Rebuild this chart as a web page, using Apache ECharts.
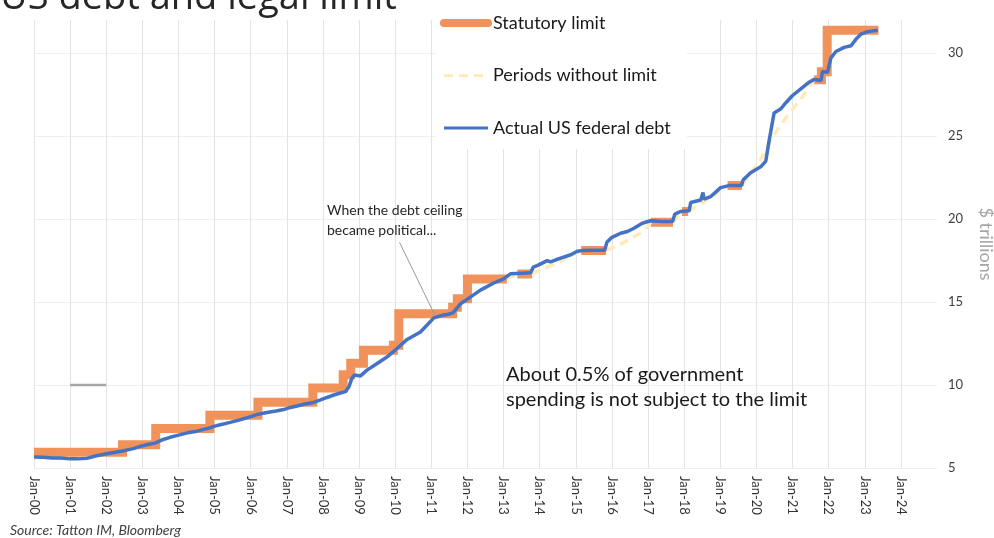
<!DOCTYPE html>
<html>
<head>
<meta charset="utf-8">
<script src="https://cdn.jsdelivr.net/npm/echarts@6/dist/echarts.min.js"></script>
<style>
html,body{margin:0;padding:0;background:#fff;}
#chart{width:994px;height:538px;}
</style>
</head>
<body>
<div id="chart"></div>
<script>
// ---------- DATA ----------
const yearLabels = ['00','01','02','03','04','05','06','07','08','09','10','11','12','13','14','15','16','17','18','19','20','21','22','23','24'];

// Statutory limit: start date (fractional year), end date, level ($ trillions)
const limitStart = [2000.0, 2002.45, 2003.37, 2004.87, 2006.2, 2007.72, 2008.56, 2008.77, 2009.12, 2009.95, 2010.1, 2011.59, 2011.72, 2012.0, 2013.38, 2015.15, 2017.08, 2017.94, 2019.2, 2021.6, 2021.8, 2021.96];
const limitEnd   = [2002.45, 2003.37, 2004.87, 2006.2, 2007.72, 2008.56, 2008.77, 2009.12, 2009.95, 2010.1, 2011.59, 2011.72, 2012.0, 2013.09, 2013.79, 2015.84, 2017.69, 2018.11, 2019.6, 2021.8, 2021.96, 2023.38];
const limitValue = [5.95, 6.4, 7.384, 8.184, 8.965, 9.815, 10.615, 11.315, 12.104, 12.394, 14.294, 14.694, 15.194, 16.394, 16.699, 18.113, 19.809, 20.456, 22.03, 28.401, 28.881, 31.381];

// Periods without limit (dashed), segments
const noLimitSegments = [
  [[2013.09, 16.394], [2013.38, 16.699]],
  [[2013.79, 16.699], [2014.3, 17.2], [2014.8, 17.7], [2015.15, 18.113]],
  [[2015.84, 18.113], [2016.43, 18.7], [2016.89, 19.3], [2017.08, 19.809]],
  [[2017.69, 19.809], [2017.94, 20.456]],
  [[2018.11, 20.456], [2018.6, 21.1], [2019.2, 22.03]],
  [[2019.6, 22.03], [2020.12, 23.6], [2020.4, 24.8], [2020.68, 25.7], [2020.95, 26.5], [2021.23, 27.2], [2021.46, 28.0], [2021.6, 28.401]]
];

// Actual US federal debt
const debtDates = [2000.0,2000.25,2000.5,2000.75,2001.0,2001.2,2001.46,2001.7,2002.01,2002.25,2002.48,2002.75,2002.94,2003.15,2003.35,2003.55,2003.77,2004.0,2004.25,2004.51,2004.7,2004.88,2005.1,2005.43,2005.7,2006.0,2006.17,2006.45,2006.7,2006.91,2007.1,2007.28,2007.5,2007.74,2007.93,2008.11,2008.3,2008.62,2008.72,2008.8,2008.87,2009.04,2009.22,2009.5,2009.78,2010.05,2010.33,2010.7,2011.07,2011.3,2011.44,2011.6,2011.65,2011.81,2012.08,2012.36,2012.73,2013.0,2013.19,2013.5,2013.75,2013.82,2013.93,2014.21,2014.3,2014.45,2014.58,2014.86,2015.04,2015.2,2015.5,2015.8,2015.86,2016.0,2016.24,2016.43,2016.61,2016.84,2017.07,2017.4,2017.68,2017.74,2017.91,2018.14,2018.18,2018.46,2018.52,2018.55,2018.73,2019.01,2019.24,2019.59,2019.63,2019.84,2020.12,2020.26,2020.35,2020.49,2020.68,2020.81,2021.0,2021.23,2021.46,2021.6,2021.79,2021.83,2021.97,2022.06,2022.2,2022.43,2022.62,2022.76,2022.9,2023.08,2023.36];
const debtValues = [5.66,5.65,5.6,5.6,5.55,5.55,5.58,5.72,5.86,5.95,6.04,6.17,6.3,6.42,6.5,6.7,6.85,6.98,7.12,7.22,7.33,7.43,7.58,7.75,7.9,8.1,8.22,8.35,8.44,8.52,8.65,8.74,8.86,8.95,9.1,9.25,9.4,9.6,9.9,10.4,10.6,10.55,10.9,11.3,11.7,12.2,12.75,13.2,14.05,14.2,14.25,14.35,14.45,14.9,15.3,15.72,16.15,16.4,16.7,16.74,16.77,17.1,17.2,17.5,17.42,17.55,17.65,17.85,18.06,18.11,18.12,18.12,18.6,18.9,19.15,19.25,19.45,19.75,19.9,19.86,19.86,20.3,20.46,20.5,21.0,21.15,21.6,21.2,21.35,21.9,22.02,22.02,22.35,22.8,23.15,23.5,24.7,26.4,26.65,27.0,27.45,27.85,28.25,28.42,28.35,28.9,28.85,29.7,30.1,30.35,30.45,30.85,31.15,31.3,31.38];

// Small grey marker line
const greyLine = [[2001, 10], [2002, 10]];

// ---------- BUILD ----------
const limitData = [];
for (let i = 0; i < limitStart.length; i++) {
  if (i > 0 && limitStart[i] === limitEnd[i - 1]) {
    limitData.push([limitStart[i], limitValue[i]]);
  } else {
    if (i > 0) limitData.push(null);
    limitData.push([limitStart[i], limitValue[i]]);
  }
  limitData.push([limitEnd[i], limitValue[i]]);
}
const noLimitData = [];
noLimitSegments.forEach((seg, i) => {
  if (i > 0) noLimitData.push(null);
  seg.forEach(p => noLimitData.push(p));
});
const debtData = debtDates.map((d, i) => [d, debtValues[i]]);

const ORANGE = '#F0925A';
const BLUE = '#4472C4';
const DASH = '#FFEBB8';
const FONT = 'Lato, "Open Sans", sans-serif';

const chart = echarts.init(document.getElementById('chart'), null, {renderer: 'canvas'});
chart.setOption({
  animation: false,
  backgroundColor: '#fff',
  grid: {left: 34, right: 57, top: 20, bottom: 70, containLabel: false, outerBoundsMode: 'none'},
  legend: {
    orient: 'vertical',
    left: 436, top: 8,
    padding: [6, 16, 12, 4],
    backgroundColor: '#fff',
    itemWidth: 44, itemHeight: 14, itemGap: 34.5,
    itemStyle: {opacity: 0},
    textStyle: {fontFamily: FONT, fontSize: 18, color: '#1a1a1a', lineHeight: 18},
    data: [
      {name: 'Statutory limit', lineStyle: {width: 8, cap: 'round'}, itemStyle: {opacity: 0}},
      {name: 'Periods without limit', lineStyle: {width: 3, type: [9, 6]}, itemStyle: {opacity: 0}},
      {name: 'Actual US federal debt', lineStyle: {width: 3}, itemStyle: {opacity: 0}}
    ],
    z: 10
  },
  xAxis: {
    type: 'value', min: 2000, max: 2025, interval: 1,
    axisLine: {show: false}, axisTick: {show: false},
    splitLine: {show: true, showMaxLine: false, lineStyle: {color: '#e4e4e4', width: 1}},
    axisLabel: {
      rotate: -90, margin: 8, fontFamily: FONT, fontSize: 13, color: '#333',
      showMaxLabel: false,
      formatter: v => { const i = Math.round(v - 2000); return i < yearLabels.length ? 'Jan-' + yearLabels[i] : ''; }
    }
  },
  yAxis: {
    type: 'value', position: 'right', min: 5, max: 32, interval: 5,
    axisLine: {show: false}, axisTick: {show: false},
    splitLine: {show: true, showMaxLine: false, lineStyle: {color: '#efefef', width: 1}},
    axisLabel: {margin: 11, fontFamily: FONT, fontSize: 13, color: '#404040', showMaxLabel: false},
    name: '$ trillions', nameLocation: 'middle', nameRotate: -90, nameGap: 40,
    nameTextStyle: {fontFamily: FONT, fontSize: 18, color: '#a6a6a6'}
  },
  series: [
    {
      name: 'Statutory limit', type: 'line', data: limitData, symbol: 'none', showSymbol: false,
      connectNulls: false, color: ORANGE,
      lineStyle: {color: ORANGE, width: 9, join: 'miter'}, z: 2
    },
    {
      name: 'Periods without limit', type: 'line', data: noLimitData, symbol: 'none', showSymbol: false,
      connectNulls: false, color: DASH,
      lineStyle: {color: DASH, width: 3.5, type: [9, 6]}, z: 3
    },
    {
      name: 'Actual US federal debt', type: 'line', data: debtData, symbol: 'none', showSymbol: false,
      color: BLUE, lineStyle: {color: BLUE, width: 3.5}, z: 4,
      markLine: {
        silent: true, symbol: 'none', label: {show: false},
        lineStyle: {color: '#9a9a9a', width: 1, type: 'solid'},
        data: [[{coord: [2010.12, 18.6]}, {coord: [2011.1, 14.2]}]]
      }
    },
    {
      name: 'marker', type: 'line', data: greyLine, symbol: 'none',
      lineStyle: {color: '#a6a6a6', width: 2.5}, z: 1, silent: true
    }
  ],
  graphic: [
    {type: 'text', left: 0, top: -21, z: 20,
     style: {text: 'US debt and legal limit', font: '38px "Open Sans", sans-serif', fill: '#262626'}},
    {type: 'text', left: 327, top: 200, z: 20,
     style: {text: 'When the debt ceiling\nbecame political...', font: '14px ' + FONT, fill: '#262626', lineHeight: 20}},
    {type: 'text', left: 506, top: 362, z: 20,
     style: {text: 'About 0.5% of government\nspending is not subject to the limit', font: '20px ' + FONT, fill: '#1a1a1a', lineHeight: 25}},
    {type: 'text', left: 10, top: 523, z: 20,
     style: {text: 'Source: Tatton IM, Bloomberg', font: 'italic 14px ' + FONT, fill: '#404040'}}
  ]
});
</script>
</body>
</html>
